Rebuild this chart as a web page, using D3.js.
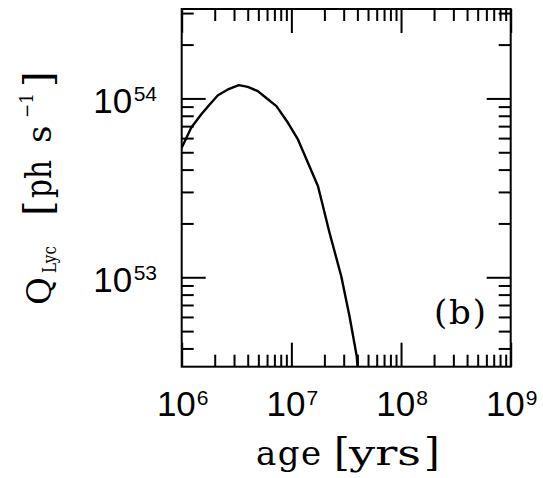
<!DOCTYPE html>
<html>
<head>
<meta charset="utf-8">
<script src="https://cdn.jsdelivr.net/npm/d3@7"></script>
<style>
  html, body { margin: 0; padding: 0; background: #fff; }
  svg { display: block; }
</style>
</head>
<body>
<svg id="chart" width="543" height="478"></svg>
<script>
// ---- data ----
const ages = [1.0e6, 1.22e6, 1.51e6, 1.80e6, 2.14e6, 2.64e6, 3.32e6, 4.01e6, 4.94e6, 5.87e6,
              7.31e6, 9.31e6, 1.148e7, 1.416e7, 1.746e7, 1.875e7, 2.228e7, 2.85e7, 3.39e7, 3.945e7, 4.07e7];
const qLyc = [5.30e53, 6.85e53, 8.15e53, 9.25e53, 1.042e54, 1.122e54, 1.186e54, 1.161e54, 1.099e54, 1.009e54,
              9.06e53, 7.31e53, 5.90e53, 4.37e53, 3.24e53, 2.72e53, 1.774e53, 1.014e53, 6.05e52, 3.62e52, 2.82e52];
const xMajor = [1e6, 1e7, 1e8, 1e9];
const xMajorExp = ["6", "7", "8", "9"];
const yMajor = [1e53, 1e54];
const yMajorExp = ["53", "54"];
const xDomain = [1e6, 1e9];
const yDomain = [Math.pow(10, 52.5), Math.pow(10, 54.5)];
const panelLabel = "(b)";

// ---- layout ----
const L = 181.7, R = 510.7, T = 9, B = 366.7;
const svg = d3.select("#chart");
const x = d3.scaleLog().domain(xDomain).range([L, R]);
const y = d3.scaleLog().domain(yDomain).range([B, T]);

function minors(domain) {
  const out = [];
  const lo = Math.floor(Math.log10(domain[0])), hi = Math.ceil(Math.log10(domain[1]));
  for (let e = lo; e < hi; e++) for (let m = 2; m <= 9; m++) {
    const v = m * Math.pow(10, e);
    if (v > domain[0] && v < domain[1]) out.push(v);
  }
  return out;
}
const xMinor = minors(xDomain), yMinor = minors(yDomain);

function styleAxis(g) {
  g.select(".domain").remove();
  g.selectAll(".tick line").attr("stroke", "#000").attr("stroke-width", 2);
  g.selectAll(".tick text").remove();
}
const MAJ = 24, MIN = 12;
function addAxis(gen, tf, vals, size) {
  svg.append("g").attr("transform", tf)
    .call(gen.tickValues(vals).tickSize(-size).tickSizeOuter(0).tickFormat("")).call(styleAxis);
}
addAxis(d3.axisBottom(x), `translate(0,${B})`, xMajor, MAJ);
addAxis(d3.axisBottom(x), `translate(0,${B})`, xMinor, MIN);
addAxis(d3.axisTop(x), `translate(0,${T})`, xMajor, MAJ);
addAxis(d3.axisTop(x), `translate(0,${T})`, xMinor, MIN);
addAxis(d3.axisLeft(y), `translate(${L},0)`, yMajor, MAJ);
addAxis(d3.axisLeft(y), `translate(${L},0)`, yMinor, MIN);
addAxis(d3.axisRight(y), `translate(${R},0)`, yMajor, MAJ);
addAxis(d3.axisRight(y), `translate(${R},0)`, yMinor, MIN);

// frame
svg.append("rect").attr("x", L).attr("y", T).attr("width", R - L).attr("height", B - T)
  .attr("fill", "none").attr("stroke", "#000").attr("stroke-width", 2);

// curve
svg.append("clipPath").attr("id", "clip").append("rect")
  .attr("x", L).attr("y", T).attr("width", R - L).attr("height", B - T);
const line = d3.line().x((d, i) => x(ages[i])).y((d, i) => y(qLyc[i])).curve(d3.curveLinear);
svg.append("path").datum(ages).attr("d", line).attr("clip-path", "url(#clip)")
  .attr("fill", "none").attr("stroke", "#000").attr("stroke-width", 2.4).attr("stroke-linejoin", "round");

// tick labels
const tickFont = "'Liberation Sans', Arial, Helvetica, sans-serif";
xMajor.forEach((v, i) => {
  const t = svg.append("text").attr("x", x(v) + 1).attr("y", 416).attr("text-anchor", "middle")
    .attr("font-family", tickFont).attr("font-size", 35).attr("fill", "#000");
  t.append("tspan").text("10");
  t.append("tspan").attr("dx", 1).attr("dy", -11.5).attr("font-size", 21).text(xMajorExp[i]);
});
yMajor.forEach((v, i) => {
  const t = svg.append("text").attr("x", 157).attr("y", y(v) + 14.3).attr("text-anchor", "end")
    .attr("font-family", tickFont).attr("font-size", 35).attr("fill", "#000");
  t.append("tspan").text("10");
  t.append("tspan").attr("dx", 1.5).attr("dy", -11.5).attr("font-size", 21).text(yMajorExp[i]);
});

// axis titles (placed piece by piece to match the wide spacing of the original)
const serif = "'DejaVu Serif', serif";
function piece(tx, ty, rot, str, size, len, adj) {
  const t = svg.append("text")
    .attr("transform", `translate(${tx},${ty})` + (rot ? " rotate(-90)" : ""))
    .attr("font-family", serif).attr("font-size", size).attr("fill", "#000").text(str);
  if (len) t.attr("textLength", len).attr("lengthAdjust", adj || "spacing");
  return t;
}
// x title: "age [yrs]"
piece(256, 465, false, "age", 34, 65);
piece(334, 465, false, "[", 40);
piece(349, 465, false, "yrs", 36, 72, "spacingAndGlyphs");
piece(424, 465, false, "]", 40);

// y title: "Q_Lyc [ph s^-1]" rotated
piece(51, 305, true, "Q", 34);
piece(56, 273, true, "Lyc", 19, 27, "spacingAndGlyphs");
piece(51, 216, true, "[", 40);
piece(51, 198, true, "ph", 35, 38, "spacingAndGlyphs");
piece(51, 143, true, "s", 34);
piece(33, 118, true, "−1", 18, 25, "spacingAndGlyphs");
piece(51, 87, true, "]", 40);

// panel label
svg.append("text").attr("x", 460).attr("y", 324).attr("text-anchor", "middle")
  .attr("font-family", serif).attr("font-size", 34).attr("fill", "#000")
  .attr("textLength", 52).attr("lengthAdjust", "spacing").text(panelLabel);
</script>
</body>
</html>
